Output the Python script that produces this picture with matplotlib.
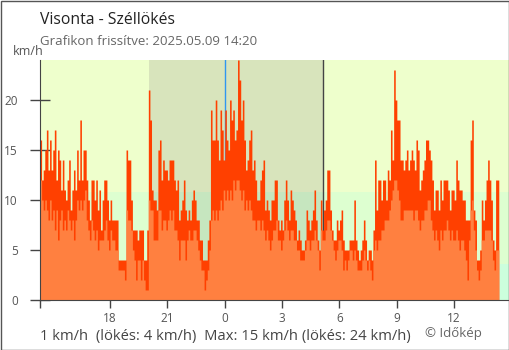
import matplotlib
matplotlib.use("Agg")
import matplotlib.pyplot as plt
from matplotlib.patches import Rectangle

# Hours relative to midnight of 2025.05.09, one sample every 5 minutes,
# starting at 14:20 the previous day.
start_h = -(9 + 40 / 60)
step_h = 5 / 60

gust = [16, 12, 13, 15, 17, 13, 16, 13, 15, 17, 12, 15, 14, 11, 14, 11, 10, 12, 14, 9,
        11, 13, 11, 15, 12, 18, 12, 15, 15, 12, 10, 8, 12, 12, 10, 12, 9, 11, 7, 10,
        12, 12, 10, 8, 10, 8, 8, 8,
        8, 4, 4, 4, 4, 4, 15, 14, 14, 10, 7, 7, 7, 6, 7, 7, 7, 4, 4, 7,
        21, 18, 11, 10, 10, 9, 15, 16, 12, 14, 13, 13, 12, 14, 14, 14, 12, 11, 12, 8,
        9, 10, 12, 9, 8, 9, 8, 10, 11, 10,
        8, 8, 6, 6, 4, 4, 4, 6, 8, 19, 16, 16, 20, 16, 14, 19, 17, 14, 19, 16,
        15, 20, 18, 19, 16, 17, 24, 22, 18, 20, 16, 13, 14, 16, 17, 13, 14, 12, 10, 10,
        12, 13, 14, 9, 10, 9, 8, 10,
        10, 12, 12, 8, 7, 8, 7, 10, 12, 10, 8, 11, 10, 9, 8, 6, 7, 6, 5, 5,
        6, 9, 8, 7, 8, 9, 11, 8, 6, 5, 10, 7, 9, 10, 13, 13, 9, 7, 6, 6,
        8, 7, 8, 9, 6, 5, 5, 5, 6,
        6, 6, 10, 6, 5, 4, 5, 6, 8, 6, 4, 5, 5, 4, 7, 14, 9, 12, 12, 10,
        12, 12, 10, 13, 12, 17, 14, 23, 20, 18, 18, 14, 14, 13, 14, 15, 13, 14, 15, 14,
        13, 16, 15, 11, 12, 13, 14, 16,
        16, 15, 14, 12, 9, 11, 11, 9, 12, 10, 12, 12, 12, 11, 9, 11, 11, 10, 14, 12,
        11, 11, 10, 10, 8, 8, 8, 16, 18, 9, 8, 4, 4, 5, 10, 8, 10, 12, 14, 12,
        10, 6, 5, 12, 12]

mean = [12, 10, 9, 10, 9, 8, 10, 8, 9, 7, 9, 6, 8, 9, 7, 8, 7, 9, 8, 7,
        8, 6, 8, 10, 9, 10, 9, 10, 11, 8, 7, 6, 8, 7, 6, 7, 5, 6, 6, 6,
        7, 8, 6, 5, 7, 6, 6, 5,
        5, 3, 3, 3, 3, 2, 9, 8, 8, 7, 5, 4, 2, 4, 4, 2, 4, 2, 1, 1,
        10, 9, 9, 6, 6, 6, 9, 9, 7, 8, 8, 7, 8, 9, 8, 9, 7, 7, 6, 4,
        6, 6, 6, 4, 6, 7, 6, 6, 7, 7,
        6, 5, 4, 3, 3, 1, 2, 3, 5, 8, 9, 8, 9, 8, 9, 10, 9, 11, 10, 11,
        10, 11, 10, 12, 11, 12, 12, 11, 10, 11, 9, 10, 9, 10, 9, 8, 8, 7, 8, 8,
        7, 8, 7, 6, 7, 6, 5, 6,
        7, 7, 8, 6, 6, 5, 6, 7, 8, 7, 6, 7, 7, 6, 6, 5, 5, 4, 4, 4,
        5, 6, 6, 5, 6, 6, 7, 6, 5, 3, 7, 6, 6, 7, 8, 8, 7, 6, 5, 4,
        5, 6, 6, 5, 3, 4, 3, 4, 5,
        5, 4, 5, 4, 3, 3, 3, 4, 5, 4, 3, 4, 3, 2, 5, 6, 5, 6, 6, 7,
        7, 8, 8, 8, 9, 10, 11, 12, 12, 11, 10, 8, 8, 9, 9, 9, 9, 9, 9, 8,
        9, 9, 8, 7, 8, 8, 9, 9,
        10, 10, 8, 7, 6, 7, 6, 5, 7, 6, 7, 7, 8, 7, 6, 7, 6, 6, 7, 6,
        5, 6, 6, 5, 4, 2, 6, 9, 10, 7, 5, 3, 2, 3, 6, 6, 7, 7, 7, 7,
        6, 4, 3, 5, 5]

tick_pos = [-6, -3, 0, 3, 6, 9, 12]
tick_lab = ["18", "21", "0", "3", "6", "9", "12"]
y_ticks = [0, 5, 10, 15, 20]
sunset_h = -3.95
sunrise_h = 5.15
bands = [0, 3.6, 10.8, 24]          # 1 m/s and 3 m/s steps
day_cols = ["#ccffdd", "#ddffd0", "#eeffcc"]
night_cols = ["#bde6c8", "#c6e6bf", "#d8e4bc"]
x_end = 14.92

plt.rcParams["font.family"] = ["Open Sans", "DejaVu Sans"]

fig = plt.figure(figsize=(5.1, 3.5), dpi=100)
ax = fig.add_axes([40 / 510, 50 / 350, 470 / 510, 240 / 350])

# background: wind-speed bands, darker at night
for x0, x1, cols in [(start_h, sunset_h, day_cols), (sunset_h, sunrise_h, night_cols),
                     (sunrise_h, x_end, day_cols)]:
    for k in range(3):
        ax.add_patch(Rectangle((x0, bands[k]), x1 - x0, bands[k + 1] - bands[k],
                               facecolor=cols[k], edgecolor="none", zorder=0))

ax.axvline(0, color="#2f96f0", lw=1, zorder=1)
ax.axvline(sunrise_h, color="#444444", lw=1, zorder=1)

edges = [start_h + i * step_h for i in range(len(gust) + 1)]
ax.fill_between(edges, gust + gust[-1:], step="post", color="#ff4000", lw=0, zorder=2)
ax.fill_between(edges, mean + mean[-1:], step="post", color="#ff8040", lw=0, zorder=3)

ax.set_xlim(start_h, x_end)
ax.set_ylim(0, 24)
ax.set_xticks([start_h] + tick_pos, [""] + tick_lab)
ax.set_yticks(y_ticks)
ax.tick_params(axis="x", direction="out", length=6, width=1, color="#444444",
               labelcolor="#555555", labelsize=8.5, pad=3)
ax.tick_params(axis="y", direction="inout", length=14, width=1, color="#444444",
               labelcolor="#555555", labelsize=8.5, pad=9)
ax.xaxis.get_major_ticks()[3].tick1line.set_color("#2f96f0")
for s in ("top", "right"):
    ax.spines[s].set_visible(False)
for s in ("left", "bottom"):
    ax.spines[s].set_color("#444444")
    ax.spines[s].set_zorder(5)

fig.text(40 / 510, 1 - 24 / 350, "Visonta - Széllökés", fontsize=11.3, color="#222222",
         va="baseline")
fig.text(40 / 510, 1 - 45 / 350, "Grafikon frissítve: 2025.05.09 14:20", fontsize=9.5,
         color="#666666", va="baseline")
fig.text(28 / 510, 1 - 55 / 350, "km/h", fontsize=9, color="#555555", ha="center",
         va="baseline")
fig.text(40 / 510, 1 - 340 / 350, "1 km/h  (lökés: 4 km/h)  Max: 15 km/h (lökés: 24 km/h)",
         fontsize=10.6, color="#444444", va="baseline")
fig.text(425 / 510, 1 - 337 / 350, "© Időkép", fontsize=9.5, color="#666666",
         va="baseline")

fig.add_artist(Rectangle((0.001, 0.001), 0.997, 0.997, transform=fig.transFigure,
                         fill=False, edgecolor="#555555", lw=1))

fig.savefig("out.png", dpi=100)
